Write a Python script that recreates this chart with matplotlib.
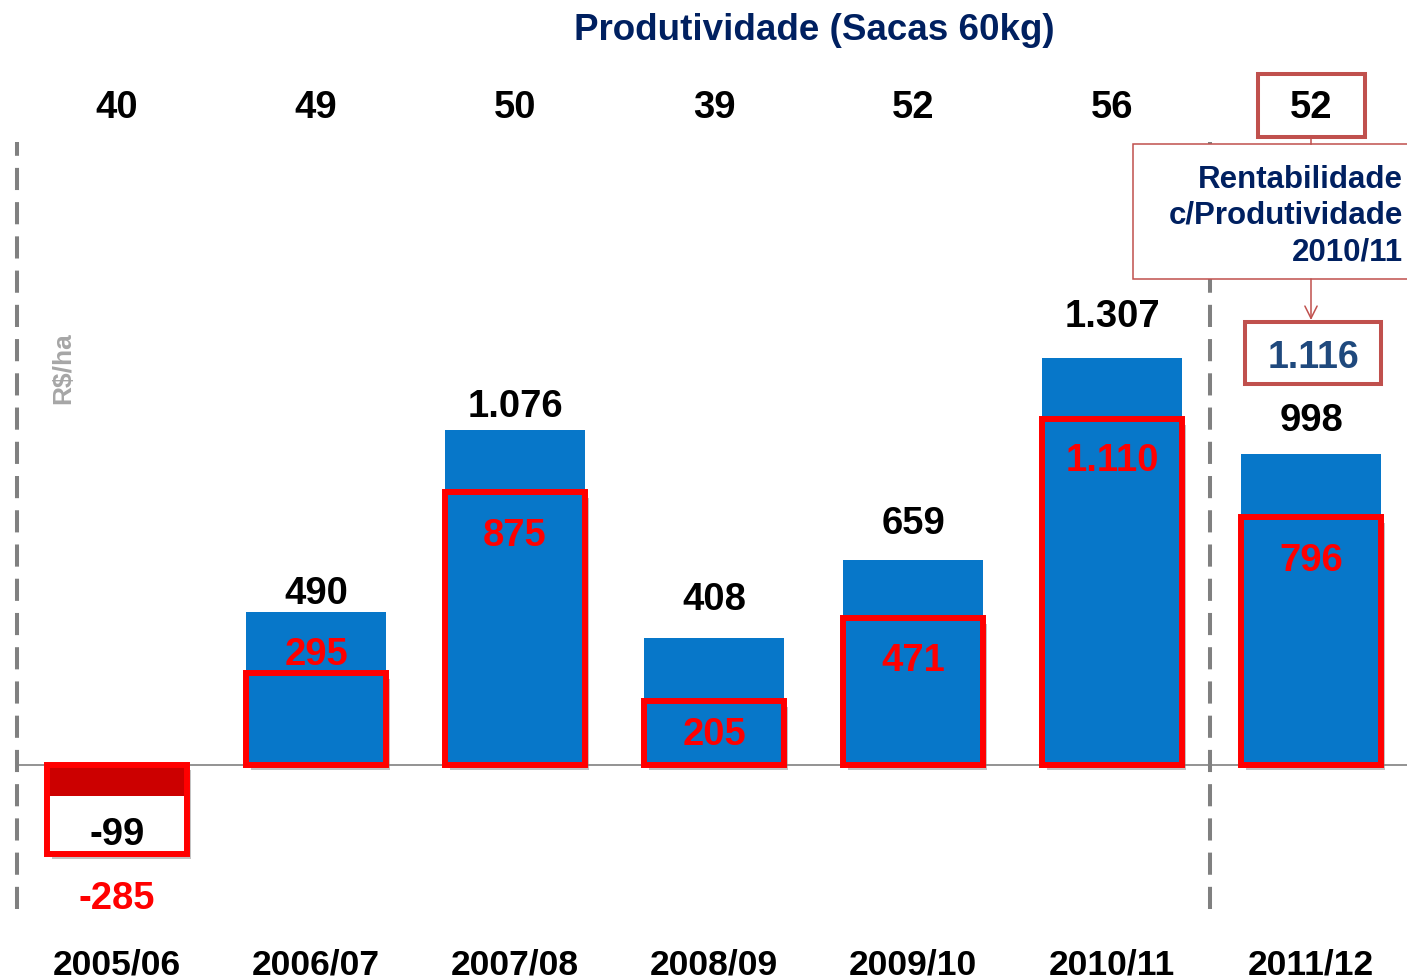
import matplotlib

matplotlib.use("Agg")

import matplotlib.pyplot as plt  # noqa: E402
import matplotlib.patheffects as pe  # noqa: E402
import numpy as np  # noqa: E402
from matplotlib.patches import Rectangle  # noqa: E402
from matplotlib.transforms import blended_transform_factory  # noqa: E402

plt.rcParams["font.family"] = ["Liberation Sans", "DejaVu Sans"]
plt.rcParams["font.weight"] = "bold"

# data
safras = ["2005/06", "2006/07", "2007/08", "2008/09", "2009/10", "2010/11", "2011/12"]
produtividade = [40, 49, 50, 39, 52, 56, 52]
rentab_total = [-99, 490, 1076, 408, 659, 1307, 998]
rentab_outline = [-285, 295, 875, 205, 471, 1110, 796]
rentab_proj = 1116  # 2011/12 using 2010/11 productivity

W, H = 1407, 979
BLUE = "#0777C9"
DARK_RED = "#CC0000"
RED = "#FF0000"
NAVY = "#002060"
BOX_RED = "#C0504D"
GREY = "#808080"


def fmt(v):
    return f"{v:,}".replace(",", ".")


def fx(px):
    return px / W


def fy(py):
    return 1 - py / H


fig = plt.figure(figsize=(W / 100, H / 100), dpi=100)
ax = fig.add_axes([0, 0, 1, 1])
ax.set_xlim(-0.588, 6.482)
ax.set_ylim(-684, 2459)
ax.axis("off")
xy_mix = blended_transform_factory(ax.transData, ax.transAxes)

x = np.arange(len(safras))
width = 0.70

# shadow layer under the red outlined boxes
ax.bar(x, rentab_outline, width, color="white", zorder=1,
       path_effects=[pe.SimplePatchShadow(offset=(3, -4), shadow_rgbFace="#555555", alpha=0.35),
                     pe.Normal()])
bar_colors = [DARK_RED if v < 0 else BLUE for v in rentab_total]
ax.bar(x, rentab_total, width, color=bar_colors, zorder=2)
ax.bar(x, rentab_outline, width, facecolor="none", edgecolor=RED, linewidth=4.3, zorder=3)

# zero line and dashed separators
ax.plot([-0.5, 6.6], [0, 0], color=GREY, lw=1.2, zorder=1.5)
for xv in (-0.503, 5.49):
    ax.axvline(xv, ymin=fy(910), ymax=fy(143), color=GREY, lw=2.9,
               linestyle=(0, (5.5, 3)), zorder=0.5)

# value labels (offsets in px from the bar end)
black_gap = [-38, 19, 24, 39, 37, 42, 34]
red_gap = [-44, 19, -43, -33, -42, -41, -43]
for i in x:
    ax.annotate(fmt(rentab_total[i]), (i, rentab_total[i]), xytext=(0, black_gap[i] * 0.72),
                textcoords="offset points", ha="center", va="center",
                fontsize=27.5, color="black", zorder=5)
    ax.annotate(fmt(rentab_outline[i]), (i, rentab_outline[i]), xytext=(0, red_gap[i] * 0.72),
                textcoords="offset points", ha="center", va="center",
                fontsize=27.5, color=RED, zorder=5)

# productivity row and season labels
for i in x:
    ax.text(i, fy(108), str(produtividade[i]), transform=xy_mix, ha="center", va="center",
            fontsize=27.5, color="black")
    ax.text(i, fy(965), safras[i], transform=xy_mix, ha="center", va="center",
            fontsize=25.5, color="black")

ax.text(fx(814), fy(30), "Produtividade (Sacas 60kg)", transform=ax.transAxes,
        ha="center", va="center", fontsize=26.5, color=NAVY)
ax.text(fx(63), fy(368), "R$/ha", transform=ax.transAxes, ha="center", va="center",
        rotation=90, fontsize=19, color="#A6A6A6")

# callout for the projected value
ax.add_patch(Rectangle((fx(1258), fy(138)), fx(107), 63 / H, transform=ax.transAxes,
                       facecolor="none", edgecolor=BOX_RED, lw=2.9, zorder=6))
ax.add_patch(Rectangle((fx(1133), fy(280)), fx(300), 135 / H, transform=ax.transAxes,
                       facecolor="white", edgecolor=BOX_RED, lw=1.1, zorder=6))
ax.add_patch(Rectangle((fx(1245), fy(385)), fx(136), 62 / H, transform=ax.transAxes,
                       facecolor="white", edgecolor=BOX_RED, lw=2.9, zorder=6))
ax.plot([fx(1311), fx(1311)], [fy(138), fy(145)], transform=ax.transAxes,
        color=BOX_RED, lw=1.1, zorder=6)
ax.annotate("", xy=(fx(1311), fy(321)), xytext=(fx(1311), fy(280)),
            xycoords="axes fraction", textcoords="axes fraction",
            arrowprops=dict(arrowstyle="->", color=BOX_RED, lw=1.1,
                            mutation_scale=22, shrinkA=0, shrinkB=0), zorder=6)
ax.text(fx(1403), fy(216), "Rentabilidade\nc/Produtividade\n2010/11", transform=ax.transAxes,
        ha="right", va="center", multialignment="right", fontsize=22.5, color=NAVY,
        linespacing=1.27, zorder=7)
ax.text(fx(1313), fy(358), fmt(rentab_proj), transform=ax.transAxes, ha="center",
        va="center", fontsize=27, color="#1F497D", zorder=7)

fig.savefig("out.png", dpi=100)
plt.close(fig)
